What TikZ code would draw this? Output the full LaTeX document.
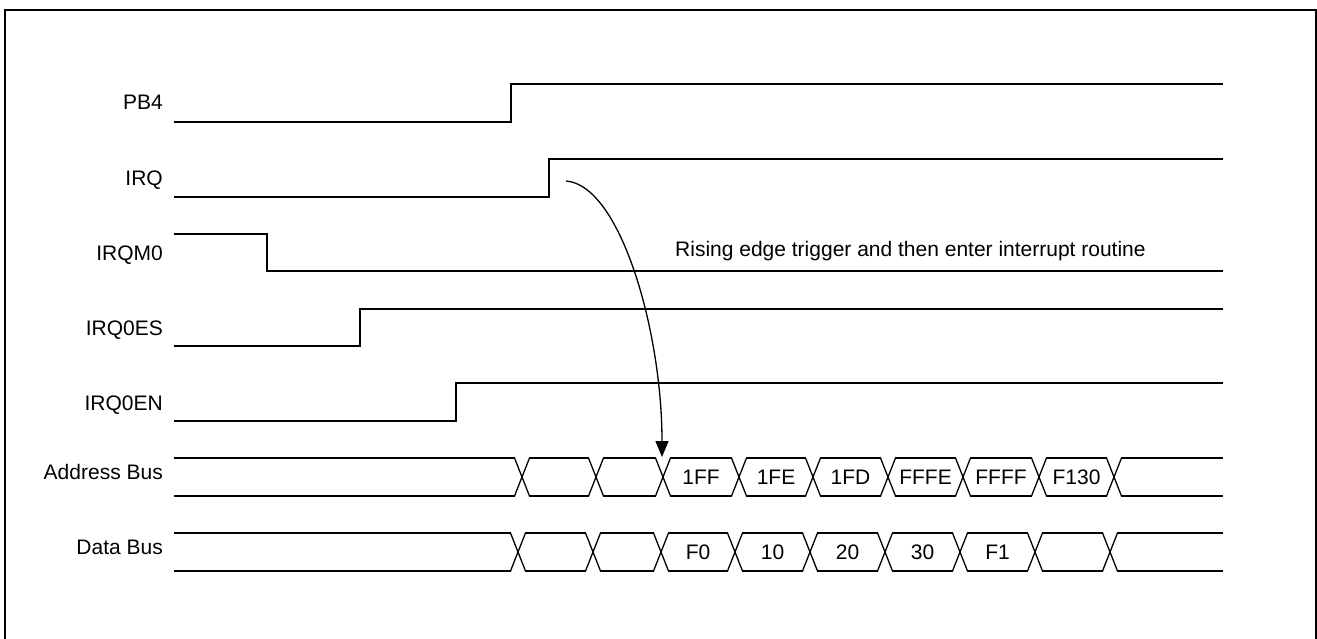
\documentclass[tikz,border=0pt]{standalone}
\usepackage{fontspec}
\setmainfont{Liberation Sans}
\usetikzlibrary{arrows.meta}
\tikzset{
  sig/.style={line width=1.3pt, black, line cap=rect},
  frame/.style={line width=1.6pt, black},
  lbl/.style={font=\fontsize{21}{25}\selectfont, inner sep=0pt, anchor=base east},
  val/.style={font=\fontsize{21}{25}\selectfont, inner sep=0pt, anchor=base},
  note/.style={font=\fontsize{21}{25}\selectfont, inner sep=0pt, anchor=base west},
  arr/.style={line width=1.3pt, -{Triangle[length=16pt,width=13pt]}}
}
\begin{document}
\begin{tikzpicture}[x=1pt,y=-1pt]
\useasboundingbox (0,0) rectangle (1317,638);
\draw[frame] (5,645) -- (5,10) -- (1316,10) -- (1316,645);

% signal names
\node[lbl] (nPB4) at (163,109) {PB4};
\node[lbl] (nIRQ) at (163,185) {IRQ};
\node[lbl] (nIRQM0) at (163,260) {IRQM0};
\node[lbl] (nIRQ0ES) at (163,335) {IRQ0ES};
\node[lbl] (nIRQ0EN) at (163,410) {IRQ0EN};
\node[lbl] (nAddr) at (163,479) {Address Bus};
\node[lbl] (nData) at (163,554) {Data Bus};

% digital signals
\draw[sig] (175,122) -- (511,122) -- (511,84) -- (1222,84);
\draw[sig] (175,197) -- (549,197) -- (549,159) -- (1222,159);
\draw[sig] (175,234) -- (267,234) -- (267,271) -- (1222,271);
\draw[sig] (175,346) -- (360,346) -- (360,309) -- (1222,309);
\draw[sig] (175,421) -- (456,421) -- (456,383) -- (1222,383);

% address bus
\foreach \c [remember=\c as \p (initially 167.5)] in {522,596,663,739,813,888,963,1039,1114}{
  \draw[sig] (\p+7.5,458) -- (\c-7.5,458);
  \draw[sig] (\p+7.5,496) -- (\c-7.5,496);
  \draw[sig] (\c-7.5,458) -- (\c+7.5,496);
  \draw[sig] (\c-7.5,496) -- (\c+7.5,458);
}
\draw[sig] (1121.5,458) -- (1222,458);
\draw[sig] (1121.5,496) -- (1222,496);

% data bus
\foreach \c [remember=\c as \p (initially 167.5)] in {518,593,661,735,810,885,960,1035,1110}{
  \draw[sig] (\p+7.5,533) -- (\c-7.5,533);
  \draw[sig] (\p+7.5,571) -- (\c-7.5,571);
  \draw[sig] (\c-7.5,533) -- (\c+7.5,571);
  \draw[sig] (\c-7.5,571) -- (\c+7.5,533);
}
\draw[sig] (1117.5,533) -- (1222,533);
\draw[sig] (1117.5,571) -- (1222,571);

% bus values
\node[val] (a1) at (701,484) {1FF};
\node[val] (a2) at (776,484) {1FE};
\node[val] (a3) at (850.5,484) {1FD};
\node[val] (a4) at (925.5,484) {FFFE};
\node[val] (a5) at (1001,484) {FFFF};
\node[val] (a6) at (1076.5,484) {F130};
\node[val] (d1) at (698,559) {F0};
\node[val] (d2) at (772.5,559) {10};
\node[val] (d3) at (847.5,559) {20};
\node[val] (d4) at (922.5,559) {30};
\node[val] (d5) at (997.5,559) {F1};

% note and arrow
\node[note] (txt) at (675,256) {Rising edge trigger and then enter interrupt routine};
\coordinate (irqedge) at (566,181);
\coordinate (bustip) at (662,457);
\draw[arr] (irqedge) .. controls (620,185) and (662,330) .. (bustip);
\end{tikzpicture}
\end{document}
